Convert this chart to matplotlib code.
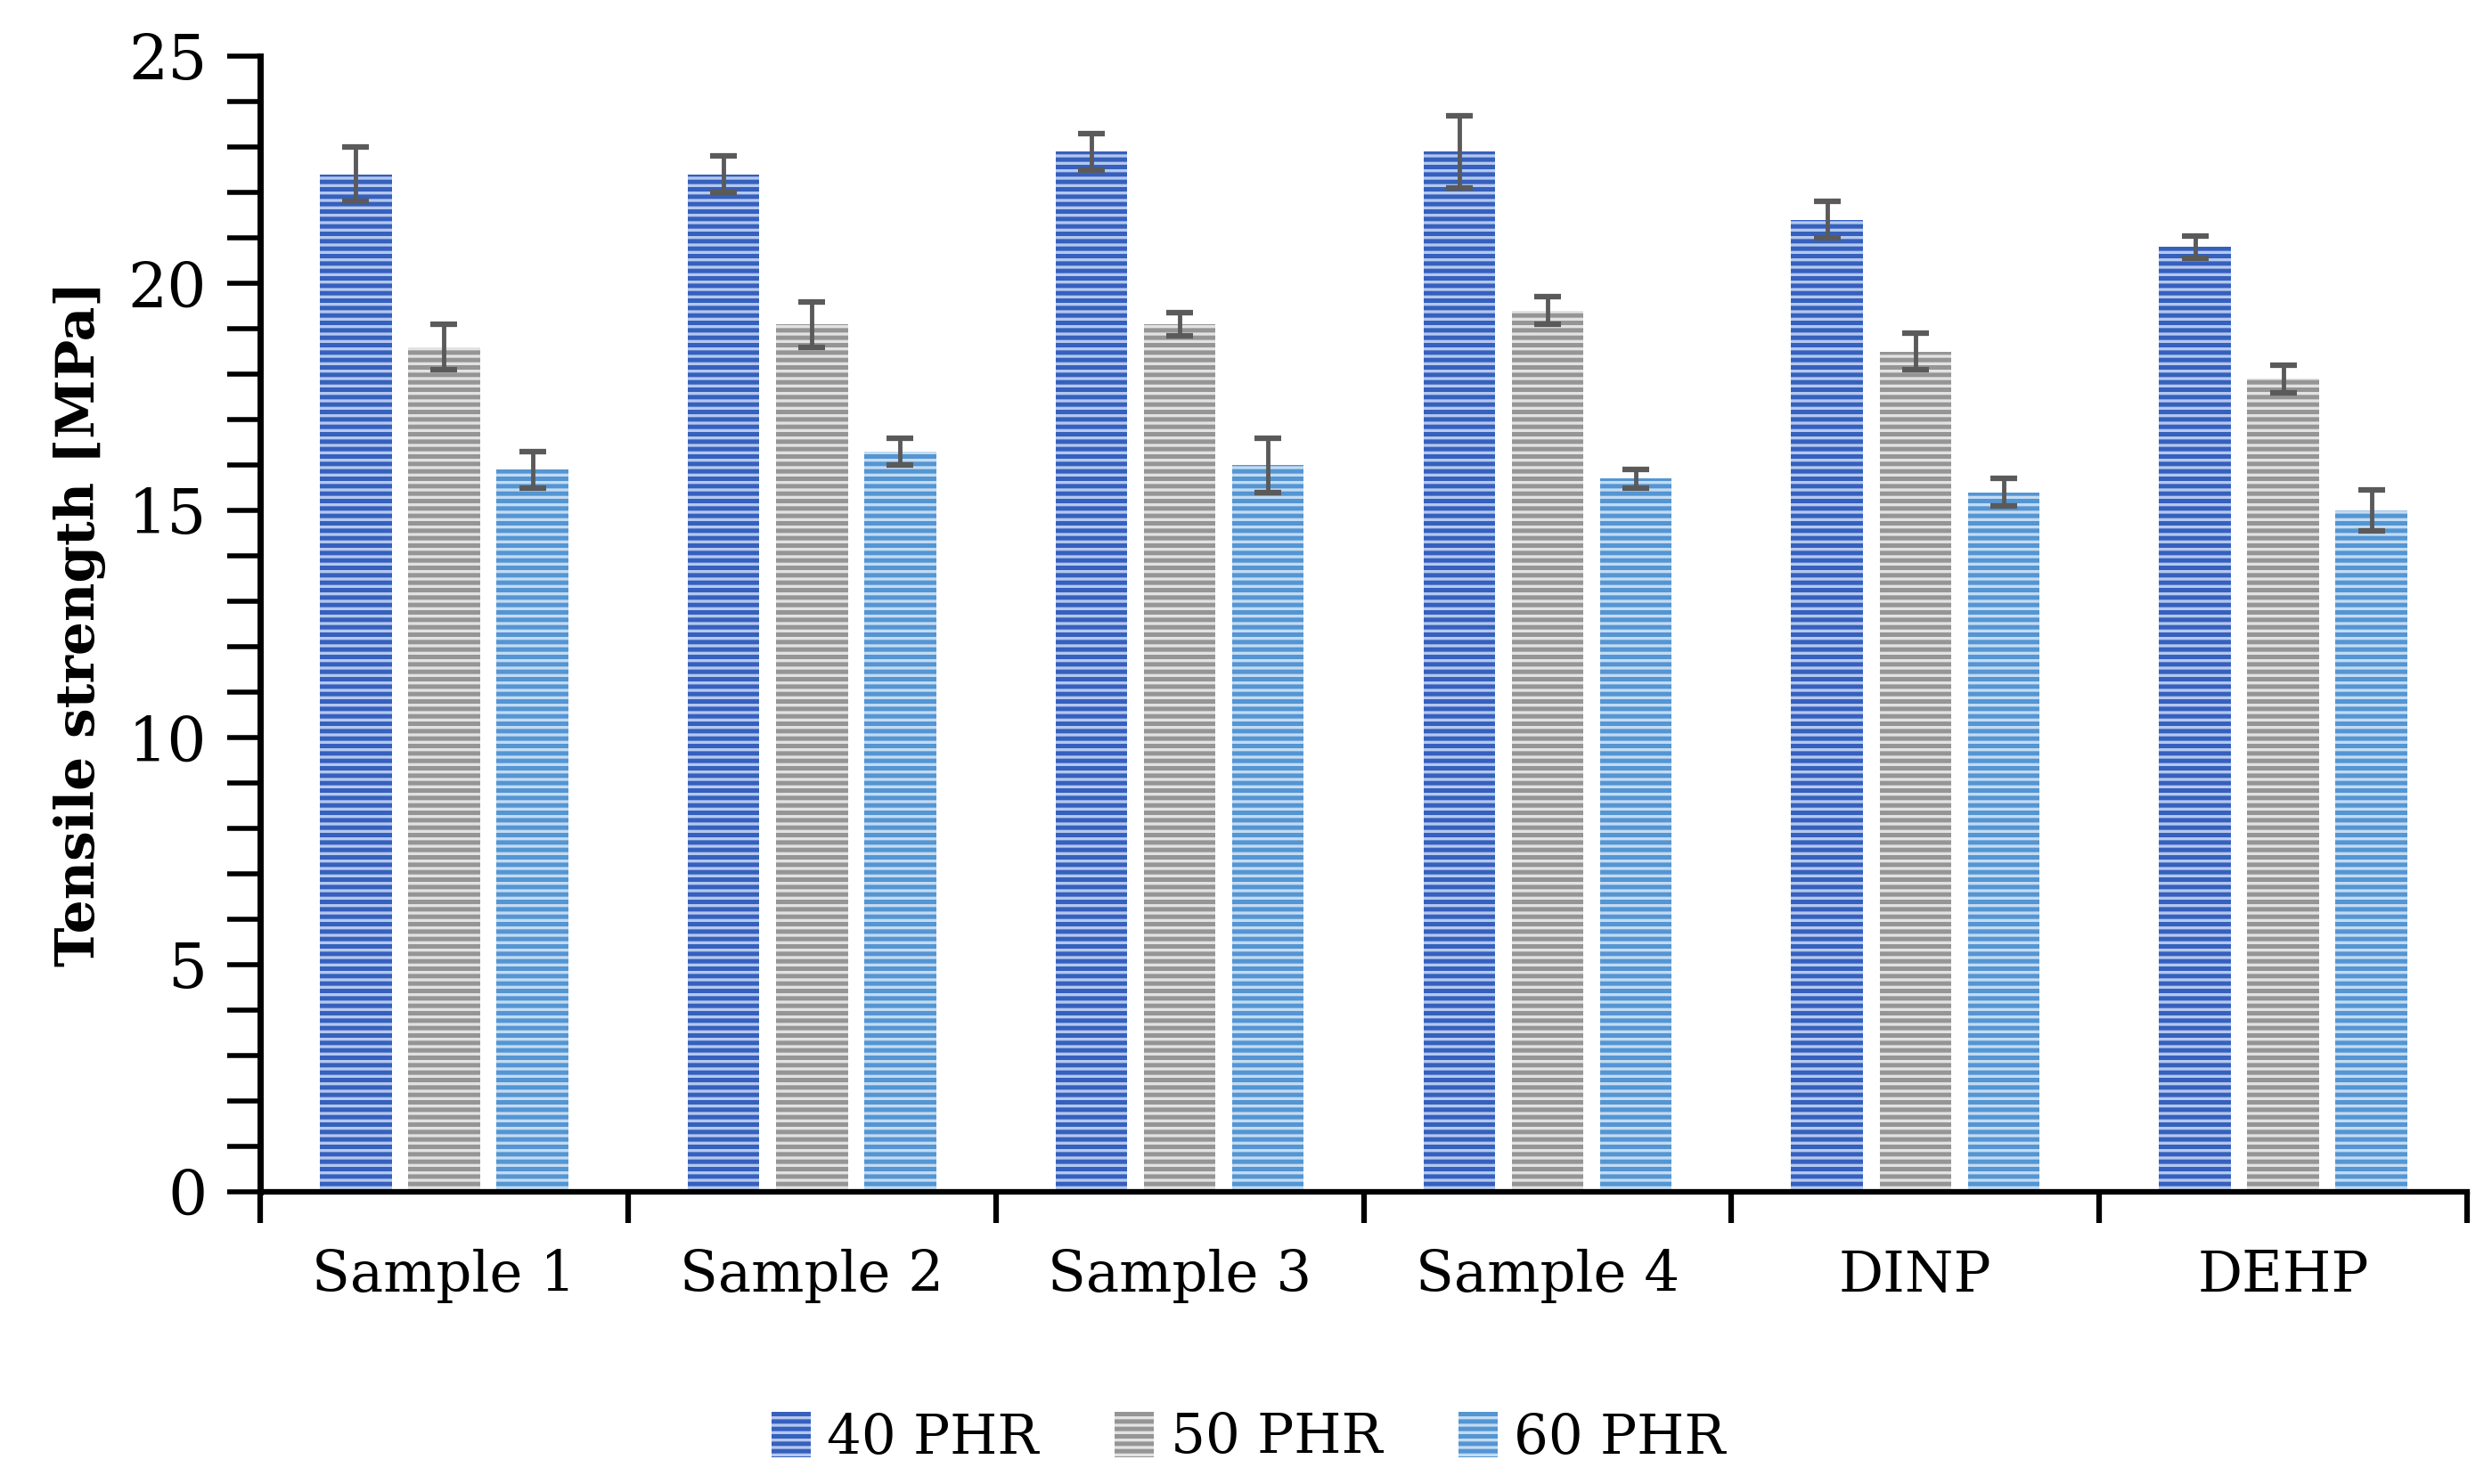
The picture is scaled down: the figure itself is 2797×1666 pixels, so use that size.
import numpy as np
import matplotlib
matplotlib.use("Agg")
import matplotlib.pyplot as plt
from matplotlib.ticker import MultipleLocator, FixedLocator, NullFormatter

# Data
categories = ["Sample 1", "Sample 2", "Sample 3", "Sample 4", "DINP", "DEHP"]
series = ["40 PHR", "50 PHR", "60 PHR"]
phr40 = [22.4, 22.4, 22.9, 22.9, 21.4, 20.8]
phr50 = [18.6, 19.1, 19.1, 19.4, 18.5, 17.9]
phr60 = [15.9, 16.3, 16.0, 15.7, 15.4, 15.0]
err40 = [0.6, 0.4, 0.4, 0.8, 0.4, 0.25]
err50 = [0.5, 0.5, 0.25, 0.3, 0.4, 0.3]
err60 = [0.4, 0.3, 0.6, 0.2, 0.3, 0.45]

values = [phr40, phr50, phr60]
errors = [err40, err50, err60]
faces = ["#b4c8ee", "#e2e2e2", "#c2dbf3"]
stripes = ["#3660bd", "#959595", "#5495d2"]

plt.rcParams['font.family'] = ['DejaVu Serif']
plt.rcParams['hatch.linewidth'] = 3.6

fig = plt.figure(figsize=(27.97, 16.66), dpi=100)
ax = fig.add_axes([0.1044, 0.197, 0.8856, 0.765])

x = np.arange(len(categories))
width = 0.195
step = 0.24

for i in range(3):
    pos = x + (i - 1) * step
    ax.bar(pos, values[i], width, color=faces[i], edgecolor=stripes[i],
           hatch="--", linewidth=0, label=series[i], zorder=2)
    ax.errorbar(pos, values[i], yerr=errors[i], fmt="none", ecolor="#5a5a5a",
                elinewidth=3.5, capsize=11, capthick=4.5, zorder=3)

ax.set_xlim(-0.5, len(categories) - 0.5)
ax.set_ylim(0, 25)

# Category boundary ticks and centred labels
ax.xaxis.set_major_locator(FixedLocator(np.arange(-0.5, len(categories), 1.0)))
ax.xaxis.set_major_formatter(NullFormatter())
ax.xaxis.set_minor_locator(FixedLocator(x))
ax.set_xticklabels(categories, minor=True)
ax.tick_params(axis="x", which="major", length=25, width=4.5, direction="out")
ax.tick_params(axis="x", which="minor", length=0, pad=46, labelsize=45)

ax.yaxis.set_major_locator(MultipleLocator(5))
ax.yaxis.set_minor_locator(MultipleLocator(1))
ax.tick_params(axis="y", which="both", length=27, width=4, direction="out",
               labelsize=50, pad=16)

for s in ["top", "right"]:
    ax.spines[s].set_visible(False)
ax.spines["left"].set_linewidth(5)
ax.spines["bottom"].set_linewidth(4.5)

ax.set_ylabel("Tensile strength [MPa]", fontsize=43, fontweight="bold", labelpad=18)

fig.legend(loc="center", bbox_to_anchor=(0.501, 0.031), ncol=3, frameon=False,
           fontsize=44, handlelength=0.72, handleheight=0.9, handletextpad=0.3,
           columnspacing=1.4)

fig.savefig("out.png", dpi=100)
